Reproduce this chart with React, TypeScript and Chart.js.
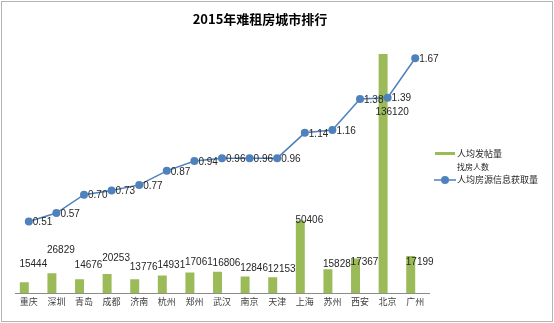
import React, { useEffect, useRef } from "react";
import { Chart, registerables } from "chart.js";

Chart.register(...registerables);

const cities = ["重庆", "深圳", "青岛", "成都", "济南", "杭州", "郑州", "武汉", "南京", "天津", "上海", "苏州", "西安", "北京", "广州"];
// 人均发帖量 (bar heights, relative units on primary axis)
const postsPerPerson = [0.077, 0.141, 0.1, 0.136, 0.1, 0.125, 0.148, 0.153, 0.118, 0.113, 0.516, 0.171, 0.246, 1.7, 0.265];
// 找房人数 (shown as labels only)
const seekers = [15444, 26829, 14676, 20253, 13776, 14931, 17061, 16806, 12846, 12153, 50406, 15828, 17367, 136120, 17199];
// 人均房源信息获取量
const infoPerPerson = [0.51, 0.57, 0.7, 0.73, 0.77, 0.87, 0.94, 0.96, 0.96, 0.96, 1.14, 1.16, 1.38, 1.39, 1.67];

const chartTitle = "2015年难租房城市排行";
const legendLabels = ["人均发帖量", "找房人数", "人均房源信息获取量"];

const GREEN = "#9bbb59";
const BLUE = "#4f81bd";
const CJK = '"Noto Sans CJK SC", "Noto Sans", sans-serif';
const LAT = '"Liberation Sans", Arial, sans-serif';

const decorPlugin = {
  id: "decor",
  beforeDraw(chart: any) {
    const ctx = chart.ctx;
    ctx.save();
    ctx.fillStyle = "#ffffff";
    ctx.fillRect(0, 0, chart.width, chart.height);
    ctx.restore();
  },
  afterDatasetsDraw(chart: any) {
    const ctx = chart.ctx;
    ctx.save();
    ctx.font = `10px ${LAT}`;
    ctx.fillStyle = "#262626";
    const m1 = chart.getDatasetMeta(1);
    ctx.textAlign = "center";
    ctx.textBaseline = "middle";
    m1.data.forEach((el: any, i: number) => {
      ctx.fillText(String(seekers[i]), el.x, el.y - 9);
    });
    const m2 = chart.getDatasetMeta(2);
    ctx.textAlign = "left";
    m2.data.forEach((el: any, i: number) => {
      ctx.fillText(infoPerPerson[i].toFixed(2), el.x + 4, el.y + 1);
    });
    ctx.restore();
  },
  afterDraw(chart: any) {
    const ctx = chart.ctx;
    ctx.save();
    ctx.font = `bold 13px ${CJK}`;
    ctx.fillStyle = "#000000";
    ctx.textAlign = "center";
    ctx.textBaseline = "middle";
    ctx.fillText(chartTitle, 260, 19);
    ctx.textAlign = "left";
    ctx.fillStyle = GREEN;
    ctx.fillRect(435, 152, 20, 3);
    ctx.fillStyle = "#262626";
    ctx.font = `9px ${CJK}`;
    ctx.fillText(legendLabels[0], 457, 154);
    ctx.font = `8px ${CJK}`;
    ctx.fillText(legendLabels[1], 457, 167);
    ctx.strokeStyle = BLUE;
    ctx.lineWidth = 1.5;
    ctx.beginPath();
    ctx.moveTo(434, 180);
    ctx.lineTo(456, 180);
    ctx.stroke();
    ctx.fillStyle = BLUE;
    ctx.beginPath();
    ctx.arc(445, 180, 4, 0, Math.PI * 2);
    ctx.fill();
    ctx.fillStyle = "#262626";
    ctx.font = `9px ${CJK}`;
    ctx.fillText(legendLabels[2], 457, 180);
    ctx.strokeStyle = "#b4b4b4";
    ctx.lineWidth = 1;
    ctx.strokeRect(1.5, 1.5, 551, 320);
    ctx.restore();
  },
};

export default function App() {
  const ref = useRef<HTMLCanvasElement | null>(null);
  useEffect(() => {
    document.body.style.margin = "0";
    const canvas = ref.current;
    if (!canvas) return;
    const chart = new Chart(canvas, {
      type: "bar",
      data: {
        labels: cities,
        datasets: [
          {
            type: "bar",
            label: legendLabels[0],
            data: postsPerPerson,
            backgroundColor: GREEN,
            yAxisID: "y",
            order: 1,
            categoryPercentage: 0.65,
            barPercentage: 1,
          } as any,
          {
            type: "bar",
            label: legendLabels[1],
            data: seekers,
            backgroundColor: "rgba(0,0,0,0)",
            yAxisID: "y2",
            order: 1,
            categoryPercentage: 0.65,
            barPercentage: 1,
          } as any,
          {
            type: "line",
            label: legendLabels[2],
            data: infoPerPerson,
            borderColor: BLUE,
            backgroundColor: BLUE,
            borderWidth: 1.5,
            pointRadius: 4,
            pointBackgroundColor: BLUE,
            pointBorderColor: BLUE,
            pointBorderWidth: 0,
            tension: 0,
            yAxisID: "y",
            order: 0,
          } as any,
        ],
      },
      options: {
        responsive: false,
        animation: false,
        layout: { padding: { left: 15, right: 125, top: 40, bottom: 13 } },
        plugins: {
          legend: { display: false },
          title: { display: false },
          tooltip: { enabled: false },
        },
        scales: {
          x: {
            grid: { display: false, drawTicks: false },
            border: { display: true, color: "#8c8c8c", width: 1 },
            ticks: {
              color: "#404040",
              font: { size: 9, family: CJK },
              padding: 3,
              maxRotation: 0,
              autoSkip: false,
            },
          },
          y: { display: false, min: 0, max: 1.8 },
          y2: { display: false, min: 0, max: 200000, position: "right" },
        },
      },
      plugins: [decorPlugin],
    });
    return () => chart.destroy();
  }, []);
  return (
    <div style={{ width: 554, height: 323 }}>
      <canvas ref={ref} width={554} height={323} style={{ display: "block" }} />
    </div>
  );
}
